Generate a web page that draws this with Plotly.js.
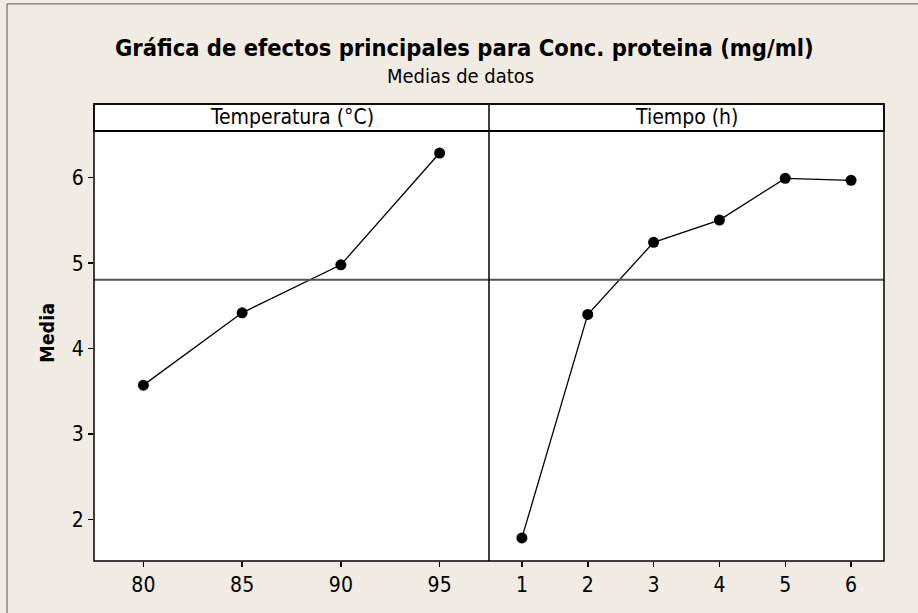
<!DOCTYPE html>
<html>
<head>
<meta charset="utf-8">
<script src="https://cdn.plot.ly/plotly-3.0.1.min.js"></script>
<style>
html,body{margin:0;padding:0;background:#F0ECE3;}
#chart{width:918px;height:613px;}
</style>
</head>
<body>
<div id="chart"></div>
<script>
// Data
var tempLevels = [80, 85, 90, 95];
var tempMeans = [3.573, 4.419, 4.981, 6.289];
var timeLevels = [1, 2, 3, 4, 5, 6];
var timeMeans = [1.785, 4.40, 5.244, 5.505, 5.993, 5.970];
var grandMean = 4.805;
var yTicks = [2, 3, 4, 5, 6];
var panelLabels = ["Temperatura (°C)", "Tiempo (h)"];
var titleText = "Gráfica de efectos principales para Conc. proteina (mg/ml)";
var subtitleText = "Medias de datos";
var yTitle = "Media";

var FONT = "DejaVu Sans Condensed, DejaVu Sans, sans-serif";

var lineStyle = {color: "#000000", width: 1.3};
var markerStyle = {color: "#000000", size: 11, symbol: "circle"};

var traces = [
  {x: tempLevels, y: tempMeans, xaxis: "x", yaxis: "y", type: "scatter", mode: "lines+markers",
   line: lineStyle, marker: markerStyle, hoverinfo: "x+y"},
  {x: timeLevels, y: timeMeans, xaxis: "x2", yaxis: "y", type: "scatter", mode: "lines+markers",
   line: lineStyle, marker: markerStyle, hoverinfo: "x+y"}
];

var stripH = 0.063;
var axisCommon = {
  showgrid: false, zeroline: false, showline: false,
  ticks: "outside", ticklen: 5, tickwidth: 1.5, tickcolor: "#000",
  tickfont: {family: FONT, size: 21, color: "#000"}
};

var layout = {
  width: 918, height: 613,
  paper_bgcolor: "#F0ECE3",
  plot_bgcolor: "#FFFFFF",
  showlegend: false,
  margin: {l: 94, r: 34, t: 131, b: 52, pad: 0},
  xaxis: Object.assign({}, axisCommon, {domain: [0, 0.5], range: [77.5, 97.5], tickvals: tempLevels, anchor: "y"}),
  xaxis2: Object.assign({}, axisCommon, {domain: [0.5, 1], range: [0.5, 6.5], tickvals: timeLevels, anchor: "y"}),
  yaxis: Object.assign({}, axisCommon, {range: [1.515, 6.547], tickvals: yTicks}),
  shapes: [
    {type: "line", xref: "paper", yref: "y", x0: 0, x1: 1, y0: grandMean, y1: grandMean,
     line: {color: "#555555", width: 2}},
    {type: "rect", xref: "paper", yref: "paper", x0: 0, x1: 1, y0: 0, y1: 1,
     line: {color: "#000", width: 1.5}},
    {type: "line", xref: "paper", yref: "paper", x0: 0.5, x1: 0.5, y0: 0, y1: 1 + stripH,
     line: {color: "#000", width: 1.5}},
    {type: "rect", xref: "paper", yref: "paper", x0: 0, x1: 1, y0: 1, y1: 1 + stripH,
     fillcolor: "#FFFFFF", line: {color: "#000", width: 1.5}, layer: "below"},
    {type: "rect", xref: "paper", yref: "paper", x0: 0, x1: 1, y0: 1, y1: 1 + stripH,
     line: {color: "#000", width: 1.5}},
    {type: "line", xref: "paper", yref: "paper", x0: -0.1101, x1: 1.05, y0: 1.2956, y1: 1.2956,
     line: {color: "#555", width: 1}},
    {type: "line", xref: "paper", yref: "paper", x0: -0.1101, x1: -0.1101, y0: -0.13, y1: 1.2956,
     line: {color: "#555", width: 1}}
  ],
  annotations: [
    {text: "<b>" + titleText + "</b>", xref: "paper", yref: "paper", x: 0.469, y: 1.1925,
     xanchor: "center", yanchor: "middle", showarrow: false,
     font: {family: FONT, size: 23.5, color: "#000"}},
    {text: subtitleText, xref: "paper", yref: "paper", x: 0.4633, y: 1.1285,
     xanchor: "center", yanchor: "middle", showarrow: false,
     font: {family: FONT, size: 20, color: "#000"}},
    {text: panelLabels[0], xref: "paper", yref: "paper", x: 0.25, y: 1 + stripH / 2,
     xanchor: "center", yanchor: "middle", showarrow: false,
     font: {family: FONT, size: 21, color: "#000"}},
    {text: panelLabels[1], xref: "paper", yref: "paper", x: 0.75, y: 1 + stripH / 2,
     xanchor: "center", yanchor: "middle", showarrow: false,
     font: {family: FONT, size: 21, color: "#000"}},
    {text: "<b>" + yTitle + "</b>", xref: "paper", yref: "paper", x: -0.0599, y: 0.530,
     xanchor: "center", yanchor: "middle", showarrow: false, textangle: -90,
     font: {family: FONT, size: 19.5, color: "#000"}}
  ]
};

Plotly.newPlot("chart", traces, layout, {displayModeBar: false, staticPlot: true});
</script>
</body>
</html>
